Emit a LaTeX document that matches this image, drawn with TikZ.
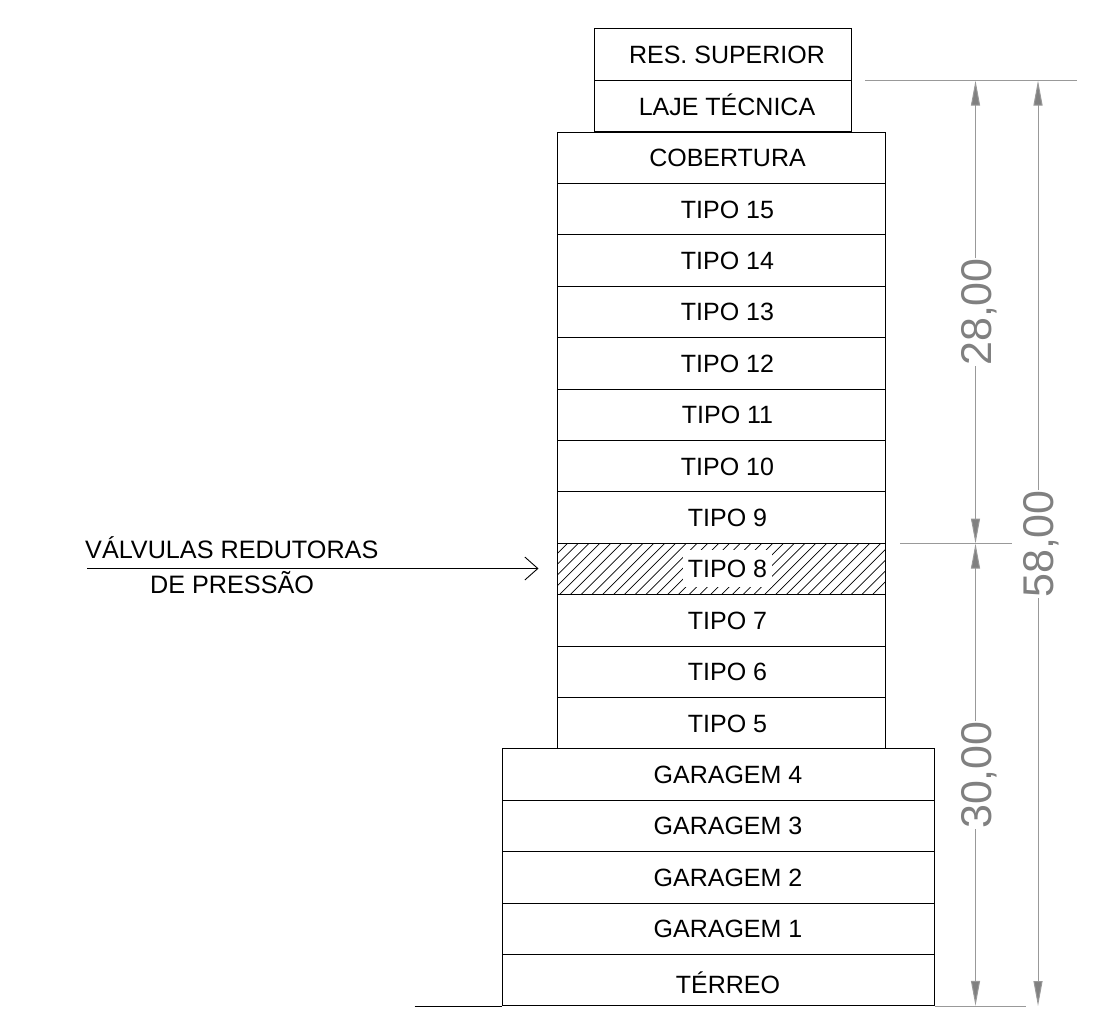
\documentclass[tikz,border=0pt]{standalone}
\usepackage{fontspec}
\setmainfont{Liberation Sans}
\usetikzlibrary{arrows.meta}
\definecolor{dimgray}{HTML}{808080}
\tikzset{
  floorbox/.style={draw=black,line width=1pt,fill=none,inner sep=0pt,minimum height=51.4pt,text height=18pt,text depth=0pt,font=\fontsize{25}{27}\selectfont,text=black},
  topfloor/.style={floorbox,minimum width=257pt,execute at begin node=\hspace*{9pt}},
  midfloor/.style={floorbox,minimum width=328pt,execute at begin node=\hspace*{13pt}},
  garfloor/.style={floorbox,minimum width=432pt,execute at begin node=\hspace*{20pt}},
  extline/.style={draw=dimgray!80,line width=1pt},
  dimline/.style={draw=dimgray!80,line width=1pt,-{Triangle[length=25pt,width=9pt,fill=dimgray]}},
  dimtext/.style={rotate=90,text=dimgray,font=\fontsize{43}{45}\selectfont,inner sep=0pt,minimum width=104pt,text height=31pt,text depth=0pt},
  leaderlabel/.style={anchor=west,inner sep=0pt,font=\fontsize{25.2}{27}\selectfont,text height=18pt,text depth=0pt}
}
\begin{document}
\begin{tikzpicture}[x=1pt,y=-1pt]
\useasboundingbox (0,0) rectangle (1102,1015);
% hatching of the pressure-reducing floor
\begin{scope}
\clip (557,543.2) rectangle (885,594.6);
\foreach \i in {0,...,34} {
  \draw[line width=0.7pt] ({500+\i*10.8},600) -- ({565+\i*10.8},535);
}
\end{scope}
\fill[white] (683,550) rectangle (772,587);
% floors
\node[topfloor] (res) at (722.5,54.5) {RES. SUPERIOR};
\node[topfloor] (laje) at (722.5,106) {LAJE TÉCNICA};
\node[midfloor] (cob) at (721,157.7) {COBERTURA};
\node[midfloor] (t15) at (721,209.1) {TIPO 15};
\node[midfloor] (t14) at (721,260.5) {TIPO 14};
\node[midfloor] (t13) at (721,311.9) {TIPO 13};
\node[midfloor] (t12) at (721,363.3) {TIPO 12};
\node[midfloor] (t11) at (721,414.7) {TIPO 11};
\node[midfloor] (t10) at (721,466.1) {TIPO 10};
\node[midfloor] (t9) at (721,517.5) {TIPO 9};
\node[midfloor] (t8) at (721,568.9) {TIPO 8};
\node[midfloor] (t7) at (721,620.3) {TIPO 7};
\node[midfloor] (t6) at (721,671.7) {TIPO 6};
\node[midfloor] (t5) at (721,723.1) {TIPO 5};
\node[garfloor] (g4) at (718,774.5) {GARAGEM 4};
\node[garfloor] (g3) at (718,825.9) {GARAGEM 3};
\node[garfloor] (g2) at (718,877.3) {GARAGEM 2};
\node[garfloor] (g1) at (718,928.7) {GARAGEM 1};
\node[garfloor,text height=26pt] (ter) at (718,980.1) {TÉRREO};
% ground and extension lines
\path (ter.south west) ++(-87,0) coordinate (gl);
\path (ter.south east) ++(91,0) coordinate (gr);
\draw[line width=1pt] (gl) -- (ter.south west);
\draw[extline] (ter.south east) -- (gr);
\coordinate (topa) at (865,80.5);
\coordinate (topb) at (1077,80.5);
\draw[extline] (topa) -- (topb);
\coordinate (mida) at (900,543.5);
\coordinate (midb) at (1012,543.5);
\draw[extline] (mida) -- (midb);
% dimensions
\coordinate (d1t) at (975.5,80.5);
\coordinate (d1m) at (975.5,543.5);
\coordinate (d1b) at (975.5,1005.8);
\coordinate (d2t) at (1038,80.5);
\coordinate (d2b) at (1038,1006);
\node[dimtext] (n28) at (975.5,312) {28,00};
\node[dimtext] (n30) at (975.5,775) {30,00};
\node[dimtext] (n58) at (1038,544) {58,00};
\draw[dimline] (n28.east) -- (d1t);
\draw[dimline] (n28.west) -- (d1m);
\draw[dimline] (n30.east) -- (d1m);
\draw[dimline] (n30.west) -- (d1b);
\draw[dimline] (n58.east) -- (d2t);
\draw[dimline] (n58.west) -- (d2b);
% leader
\node[leaderlabel] (lab1) at (85,549) {VÁLVULAS REDUTORAS};
\node[leaderlabel] (lab2) at (150,584) {DE PRESSÃO};
\coordinate (ls) at (87,568.5);
\coordinate (le) at (538.5,568.5);
\draw[line width=0.9pt,-{Straight Barb[length=13pt,width=23pt,line width=0.9pt]}] (ls) -- (le);
\end{tikzpicture}
\end{document}
